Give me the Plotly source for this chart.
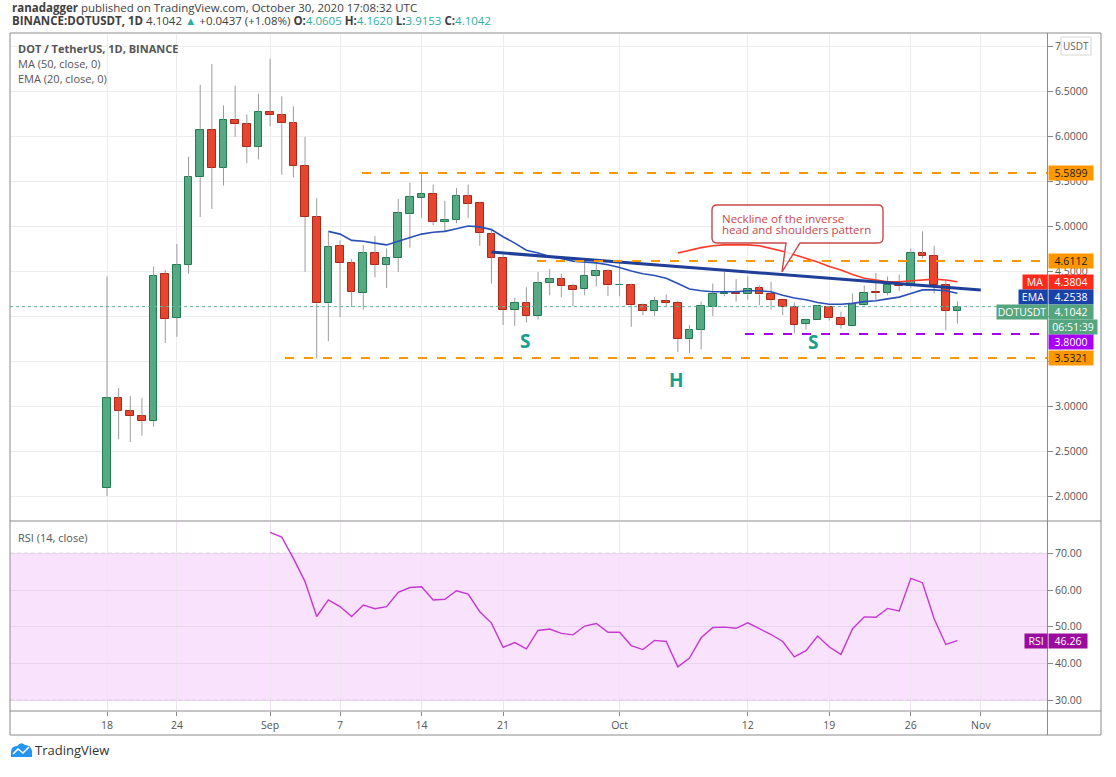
import pandas as pd
import plotly.graph_objects as go

# ---------------- data ----------------
dates = pd.date_range("2020-08-18", "2020-10-30", freq="D")
opens = [2.09, 3.09, 2.94, 2.89, 2.83, 4.47, 3.98, 4.57, 5.54, 6.07, 5.65, 6.18, 6.13, 5.88,
         6.27, 6.23, 6.14, 5.67, 5.10, 4.14, 4.78, 4.59, 4.26, 4.70, 4.57, 4.64, 5.13, 5.31,
         5.36, 5.05, 5.07, 5.33, 5.26, 4.91, 4.65, 4.07, 4.15, 4.00, 4.37, 4.41, 4.33, 4.30,
         4.45, 4.50,
         4.34, 4.34, 4.12, 4.06, 4.17, 4.15, 3.74, 3.85, 4.10, 4.25, 4.26, 4.24, 4.31, 4.25,
         4.18, 4.10, 3.91, 3.96, 4.10, 3.98, 3.89, 4.12, 4.27, 4.26, 4.35, 4.33, 4.70, 4.67,
         4.34, 4.0605]
highs = [4.44, 3.20, 3.11, 3.09, 4.55, 4.51, 4.80, 5.77, 6.57, 6.80, 6.34, 6.56, 6.24, 6.47,
         6.86, 6.44, 6.33, 5.99, 5.31, 4.93, 4.84, 4.63, 4.79, 4.89, 4.75, 5.30, 5.48, 5.59,
         5.46, 5.28, 5.42, 5.46, 5.27, 4.96, 4.68, 4.20, 4.32, 4.49, 4.52, 4.47, 4.36, 4.59,
         4.60, 4.52,
         4.59, 4.36, 4.14, 4.21, 4.24, 4.17, 3.90, 4.16, 4.36, 4.49, 4.41, 4.44, 4.34, 4.38,
         4.18, 4.15, 3.97, 4.12, 4.11, 4.05, 4.25, 4.34, 4.48, 4.44, 4.46, 4.75, 4.94, 4.78,
         4.40, 4.1620]
lows = [2.00, 2.63, 2.60, 2.67, 2.77, 3.70, 3.77, 4.47, 5.10, 5.19, 5.45, 5.99, 5.70, 5.74,
        6.11, 5.57, 5.54, 4.49, 3.53, 3.72, 3.99, 4.10, 4.07, 4.43, 4.31, 4.49, 4.76, 5.09,
        5.01, 4.94, 5.03, 5.09, 4.78, 4.36, 3.90, 3.89, 3.93, 3.96, 4.23, 4.21, 4.11, 4.23,
        4.33, 4.22,
        4.22, 3.88, 4.01, 4.00, 4.10, 3.60, 3.59, 3.63, 4.00, 4.22, 4.16, 4.18, 4.12, 4.07,
        4.01, 3.81, 3.85, 3.96, 3.95, 3.86, 3.89, 4.11, 4.18, 4.23, 4.28, 4.31, 4.64, 4.25,
        3.84, 3.9153]
closes = [3.09, 2.95, 2.89, 2.83, 4.44, 3.97, 4.57, 5.54, 6.07, 5.65, 6.18, 6.13, 5.88, 6.27,
          6.23, 6.14, 5.67, 5.10, 4.14, 4.77, 4.59, 4.27, 4.70, 4.57, 4.65, 5.14, 5.32, 5.36,
          5.05, 5.07, 5.33, 5.25, 4.92, 4.65, 4.07, 4.15, 4.00, 4.37, 4.41, 4.33, 4.29, 4.45,
          4.50, 4.34,
          4.345, 4.12, 4.06, 4.17, 4.15, 3.74, 3.84, 4.11, 4.25, 4.26, 4.24, 4.30, 4.24, 4.18,
          4.10, 3.90, 3.96, 4.11, 3.98, 3.90, 4.13, 4.26, 4.26, 4.35, 4.33, 4.70, 4.67, 4.34,
          4.06, 4.1042]

ema_start = "2020-09-06"
ema20 = [4.94, 4.91, 4.84, 4.83, 4.81, 4.79, 4.83, 4.87, 4.91, 4.93, 4.94, 4.97, 5.00, 4.99,
         4.96, 4.88, 4.81, 4.73, 4.70, 4.66, 4.64, 4.61, 4.60, 4.59, 4.57,
         4.54, 4.50, 4.47, 4.45, 4.42, 4.36, 4.30, 4.28, 4.27, 4.27, 4.27, 4.28, 4.28, 4.27,
         4.23, 4.20, 4.18, 4.15, 4.13, 4.13, 4.14, 4.16, 4.17, 4.19, 4.21, 4.25, 4.29, 4.29,
         4.28, 4.2538]

ma_start = "2020-10-06"
ma50 = [4.70, 4.73, 4.76, 4.78, 4.79, 4.79, 4.79, 4.78, 4.75, 4.72, 4.68, 4.64, 4.60, 4.55,
        4.51, 4.46, 4.42, 4.40, 4.38, 4.38, 4.39, 4.40, 4.41, 4.40, 4.3804]

rsi_start = "2020-09-01"
rsi14 = [75.7, 74.4, 68.6, 62.3, 52.8, 57.3, 55.5, 52.8, 55.9, 54.9, 55.5, 59.4, 60.7, 60.9,
         57.3, 57.5, 59.8, 58.9, 54.1, 51.0, 44.4, 45.7, 44.0, 49.0, 49.4, 48.2, 47.8, 50.2,
         50.9, 48.5,
         48.5, 44.9, 43.8, 46.3, 46.0, 39.1, 41.5, 47.0, 49.8, 49.9, 49.6, 51.1, 49.5, 47.9,
         46.0, 41.8, 43.5, 47.5, 44.5, 42.5, 49.5, 52.7, 52.6, 55.0, 54.3, 63.2, 62.0, 52.2,
         45.2, 46.26]

neck_dates = ["2020-09-20", "2020-11-01"]
neck_vals = [4.71, 4.29]

resist_high = 5.5899
resist_mid = 4.6112
support_low = 3.5321
support_purple = 3.80
last_price = 4.1042
ma_last = 4.3804
ema_last = 4.2538
rsi_last = 46.26

x_tick_dates = ["2020-08-18", "2020-08-24", "2020-09-01", "2020-09-07", "2020-09-14",
                "2020-09-21", "2020-10-01", "2020-10-12", "2020-10-19", "2020-10-26",
                "2020-11-01"]
x_tick_text = ["18", "24", "Sep", "7", "14", "21", "Oct", "12", "19", "26", "Nov"]
price_ticks = [2.0, 2.5, 3.0, 3.5, 4.0, 4.5, 5.0, 5.5, 6.0, 6.5, 7.0]
# 3.5 and 4.0 labels sit fully behind the price tags in the reference
price_tick_text = ["2.0000", "2.5000", "3.0000", "", "", "4.5000", "5.0000", "5.5000",
                   "6.0000", "6.5000", "7.0000"]
rsi_ticks = [30, 40, 50, 60, 70]

# ---------------- geometry helpers ----------------
W, H = 1116, 777
L, R, T, B = 10, 1047, 34, 711


def PX(x):
    return (x - L) / (R - L)


def PY(y):
    return (B - y) / (B - T)


day0 = pd.Timestamp("2020-08-18")
day_px = 11.65
x_start = day0 + pd.Timedelta(days=(L - 107) / day_px)
x_end = day0 + pd.Timedelta(days=(R - 107) / day_px)


def dpx(px):
    return day0 + pd.Timedelta(days=(px - 107) / day_px)


GREEN = "#56a982"
GREEN_L = "#1f7a4f"
RED = "#e8452e"
RED_L = "#a8281a"
WICK = "#9b9b9b"
ORANGE = "#ff9800"
PURPLE = "#a700f5"
FONT = "Open Sans"

fig = go.Figure()

# wicks (drawn outside the bodies)
wx, wy = [], []
for d, o, h, l, c in zip(dates, opens, highs, lows, closes):
    lo_b, hi_b = min(o, c), max(o, c)
    wx += [d, d, None, d, d, None]
    wy += [l, lo_b, None, hi_b, h, None]
fig.add_trace(go.Scatter(x=wx, y=wy, mode="lines", line=dict(color=WICK, width=1),
                         hoverinfo="skip", showlegend=False, xaxis="x", yaxis="y"))

# bodies
body_base = [min(o, c) for o, c in zip(opens, closes)]
body_h = [abs(c - o) for o, c in zip(opens, closes)]
body_col = [GREEN if c >= o else RED for o, c in zip(opens, closes)]
body_line = [GREEN_L if c >= o else RED_L for o, c in zip(opens, closes)]
fig.add_trace(go.Bar(x=dates, y=body_h, base=body_base, width=0.66 * 86400000,
                     marker=dict(color=body_col, line=dict(color=body_line, width=1)),
                     showlegend=False, xaxis="x", yaxis="y"))

ema_dates = pd.date_range(ema_start, periods=len(ema20), freq="D")
ma_dates = pd.date_range(ma_start, periods=len(ma50), freq="D")
rsi_dates = pd.date_range(rsi_start, periods=len(rsi14), freq="D")

fig.add_trace(go.Scatter(x=ema_dates, y=ema20, mode="lines", line=dict(color="#2b50b5", width=1.6),
                         showlegend=False, xaxis="x", yaxis="y"))
fig.add_trace(go.Scatter(x=ma_dates, y=ma50, mode="lines", line=dict(color="#ff3a2a", width=1.6),
                         showlegend=False, xaxis="x", yaxis="y"))
fig.add_trace(go.Scatter(x=pd.to_datetime(neck_dates), y=neck_vals, mode="lines",
                         line=dict(color="#1f3f98", width=3), showlegend=False,
                         xaxis="x", yaxis="y"))

# RSI
fig.add_trace(go.Scatter(x=rsi_dates, y=rsi14, mode="lines", line=dict(color="#c538d2", width=1.4),
                         showlegend=False, xaxis="x2", yaxis="y2"))

shapes = []
# RSI band
shapes.append(dict(type="rect", xref="x2", yref="y2", x0=x_start, x1=x_end, y0=30, y1=70,
                   fillcolor="#f8e2fc", line=dict(width=0), layer="below"))
for v in (30, 70):
    shapes.append(dict(type="line", xref="x2", yref="y2", x0=x_start, x1=x_end, y0=v, y1=v,
                       line=dict(color="#b0a9b4", width=1, dash="4px,3px"), layer="below"))

# horizontal levels
shapes.append(dict(type="line", xref="x", yref="y", x0=dpx(362), x1=x_end, y0=resist_high,
                   y1=resist_high, line=dict(color=ORANGE, width=2, dash="9px,10px")))
shapes.append(dict(type="line", xref="x", yref="y", x0=dpx(537), x1=x_end, y0=resist_mid,
                   y1=resist_mid, line=dict(color=ORANGE, width=2, dash="9px,10px")))
shapes.append(dict(type="line", xref="x", yref="y", x0=dpx(285), x1=x_end, y0=support_low,
                   y1=support_low, line=dict(color=ORANGE, width=2, dash="9px,10px")))
shapes.append(dict(type="line", xref="x", yref="y", x0=dpx(745), x1=x_end, y0=support_purple,
                   y1=support_purple, line=dict(color=PURPLE, width=2, dash="9px,10px")))
shapes.append(dict(type="line", xref="x", yref="y", x0=x_start, x1=x_end, y0=last_price,
                   y1=last_price, line=dict(color="#5fb49a", width=1, dash="dot")))

# callout box
x0, x1, y0, y1, r = 712, 883, 205, 243, 5
pts = [("M", x0 + r, y0), ("L", x1 - r, y0), ("Q", x1, y0, x1, y0 + r), ("L", x1, y1 - r),
       ("Q", x1, y1, x1 - r, y1), ("L", 800, y1), ("L", 782, 272), ("L", 786, y1),
       ("L", x0 + r, y1), ("Q", x0, y1, x0, y1 - r), ("L", x0, y0 + r),
       ("Q", x0, y0, x0 + r, y0)]
path = ""
for p in pts:
    cmd = p[0]
    coords = p[1:]
    s = []
    for i in range(0, len(coords), 2):
        s.append(f"{PX(coords[i]):.5f},{PY(coords[i + 1]):.5f}")
    path += cmd + " " + " ".join(s) + " "
path += "Z"
shapes.append(dict(type="path", xref="paper", yref="paper", path=path,
                   fillcolor="rgba(255,255,255,0.82)", line=dict(color="#c9474b", width=1.4)))

# frame lines
frame = dict(color="#8c8c8c", width=1)
shapes.append(dict(type="rect", xref="paper", yref="paper", x0=PX(10), x1=PX(1101),
                   y0=PY(735), y1=PY(33), line=frame))
shapes.append(dict(type="line", xref="paper", yref="paper", x0=PX(1047.5), x1=PX(1047.5),
                   y0=PY(735), y1=PY(33), line=frame))
shapes.append(dict(type="line", xref="paper", yref="paper", x0=PX(10), x1=PX(1101),
                   y0=PY(521), y1=PY(521), line=frame))
shapes.append(dict(type="line", xref="paper", yref="paper", x0=PX(10), x1=PX(1101),
                   y0=PY(711), y1=PY(711), line=frame))

# USDT box
shapes.append(dict(type="rect", xref="paper", yref="paper", x0=PX(1061), x1=PX(1091),
                   y0=PY(55), y1=PY(37), fillcolor="white", line=dict(color="#d6d6d6", width=1)))

# TradingView logo
logo = ("M {a},{b} L {c},{d} Q {e},{f} {g},{h} Q {i},{j} {k},{l} Q {m},{n} {o},{p} L {q},{r} Z"
        .format(a=PX(11), b=PY(757), c=PX(11), d=PY(752), e=PX(11), f=PY(746), g=PX(17), h=PY(746),
                i=PX(21), j=PY(741), k=PX(25), l=PY(745), m=PX(31), n=PY(745), o=PX(32), p=PY(751),
                q=PX(32), r=PY(757)))
shapes.append(dict(type="path", xref="paper", yref="paper", path=logo, fillcolor="#2196f3",
                   line=dict(width=0)))
shapes.append(dict(type="path", xref="paper", yref="paper",
                   path=f"M {PX(13)},{PY(754)} L {PX(18)},{PY(749)} L {PX(23)},{PY(753)} L {PX(29)},{PY(747)}",
                   line=dict(color="white", width=1.6)))

ann = []
TXT = "#404040"
TEAL = "#2fae9f"
ann.append(dict(xref="paper", yref="paper", x=PX(10), y=PY(7), xanchor="left", yanchor="middle",
                showarrow=False, font=dict(family=FONT, size=11.5, color=TXT),
                text="<b>ranadagger</b> published on TradingView.com, October 30, 2020 17:08:32 UTC"))
ann.append(dict(xref="paper", yref="paper", x=PX(10), y=PY(21), xanchor="left", yanchor="middle",
                showarrow=False, font=dict(family=FONT, size=11.5, color=TXT),
                text=("<b>BINANCE:DOTUSDT, 1D</b> 4.1042 <span style='color:%s'>▲</span> +0.0437 (+1.08%%) "
                      "<b>O:</b><span style='color:%s'>4.0605</span> <b>H:</b><span style='color:%s'>4.1620</span> "
                      "<b>L:</b><span style='color:%s'>3.9153</span> <b>C:</b><span style='color:%s'>4.1042</span>")
                % (TEAL, TEAL, TEAL, TEAL, TEAL)))
LEG = "#555555"
for yy, t in [(48, "<b>DOT / TetherUS, 1D, BINANCE</b>"), (63, "MA (50, close, 0)"),
              (78, "EMA (20, close, 0)")]:
    ann.append(dict(xref="paper", yref="paper", x=PX(16), y=PY(yy), xanchor="left",
                    yanchor="middle", showarrow=False, font=dict(family=FONT, size=11, color=LEG),
                    text=t))
ann.append(dict(xref="paper", yref="paper", x=PX(16), y=PY(537), xanchor="left", yanchor="middle",
                showarrow=False, font=dict(family=FONT, size=11, color=LEG), text="RSI (14, close)"))
ann.append(dict(xref="paper", yref="paper", x=PX(1076), y=PY(46), xanchor="center",
                yanchor="middle", showarrow=False, font=dict(family=FONT, size=10, color="#666"),
                text="USDT"))

# callout text
for yy, t in [(218, "Neckline of the inverse"), (229.5, "head and shoulders pattern")]:
    ann.append(dict(xref="paper", yref="paper", x=PX(720), y=PY(yy), xanchor="left",
                    yanchor="middle", showarrow=False, font=dict(family=FONT, size=11.5, color="#c9474b"),
                    text=t))

# S H S letters
for px_, py_, t in [(525, 341, "S"), (676, 380, "H"), (813, 342, "S")]:
    ann.append(dict(xref="x", yref="y", x=dpx(px_), y=2 + (496 - py_) / 90, showarrow=False,
                    font=dict(family=FONT, size=19, color="#17a08d"), text="<b>%s</b>" % t))


def tag(py, text, bg, fg="white", anchor="left", xp=1048, w=None):
    d = dict(xref="paper", yref="paper", x=PX(xp), y=PY(py), xanchor=anchor, yanchor="middle",
             showarrow=False, bgcolor=bg, font=dict(family=FONT, size=10.5, color=fg),
             text=text, borderpad=1, height=12)
    if w:
        d["width"] = w
    return d


# price tags (stacked as in the reference, so placed by pixel row)
ann.append(tag(173.3, "%.4f" % resist_high, ORANGE, fg="#1d1d1d", w=42))
ann.append(tag(260.7, "%.4f" % resist_mid, ORANGE, fg="#1d1d1d", w=42))
ann.append(tag(281.5, "%.4f" % ma_last, "#ff2a1a", w=42))
ann.append(tag(281.5, "MA", "#ff2a1a", anchor="right", w=22))
ann.append(tag(296.5, "%.4f" % ema_last, "#1943a8", w=42))
ann.append(tag(296.5, "EMA", "#1943a8", anchor="right", w=26))
ann.append(tag(311.5, "%.4f" % last_price, "#55a57f", w=42))
ann.append(tag(311.5, "DOTUSDT", "#55a57f", anchor="right", w=48))
ann.append(tag(327.3, "06:51:39", "#55a57f", w=46))
ann.append(tag(342.3, "%.4f" % support_purple, PURPLE, w=42))
ann.append(tag(358.3, "%.4f" % support_low, ORANGE, fg="#1d1d1d", w=42))
ann.append(tag(641, "%.2f" % rsi_last, "#9a0c9c", w=36))
ann.append(tag(641, "RSI", "#9a0c9c", anchor="right", w=20))

ann.append(dict(xref="paper", yref="paper", x=PX(33), y=PY(750), xanchor="left", yanchor="middle",
                showarrow=False, font=dict(family=FONT, size=13, color="#333"), text="TradingView"))

axis_font = dict(family=FONT, size=10.5, color="#555")
fig.update_layout(
    width=W, height=H, autosize=False,
    margin=dict(l=L, r=W - R, t=T, b=H - B, pad=0),
    paper_bgcolor="white", plot_bgcolor="white",
    showlegend=False, barmode="overlay", bargap=0,
    shapes=shapes, annotations=ann,
    xaxis=dict(domain=[0, 1], anchor="y", range=[x_start, x_end], type="date",
               tickvals=pd.to_datetime(x_tick_dates), ticktext=x_tick_text,
               showticklabels=False, showgrid=True, gridcolor="#ededed", gridwidth=1,
               zeroline=False, showline=False, ticks=""),
    xaxis2=dict(domain=[0, 1], anchor="y2", matches="x", range=[x_start, x_end], type="date",
                tickvals=pd.to_datetime(x_tick_dates), ticktext=x_tick_text,
                showgrid=True, gridcolor="#ede4ef", gridwidth=1, zeroline=False,
                ticks="outside", ticklen=4, tickcolor="#888", tickfont=axis_font,
                showline=False),
    yaxis=dict(domain=[(B - 520) / (B - T), 1], anchor="x", side="right",
               range=[2 + (496 - 520) / 90, 2 + (496 - T) / 90],
               tickvals=price_ticks, ticktext=price_tick_text, ticks="outside", ticklen=5,
               tickcolor="#888", tickfont=axis_font, showgrid=True, gridcolor="#ededed",
               zeroline=False, showline=False, fixedrange=True),
    yaxis2=dict(domain=[0, (B - 522) / (B - T)], anchor="x2", side="right",
                range=[30 - (B - 700.3) / 3.675, 70 + (553.3 - 522) / 3.675],
                tickvals=rsi_ticks, tickformat=".2f", ticks="outside", ticklen=5,
                tickcolor="#888", tickfont=axis_font, showgrid=True, gridcolor="#e9d3ee",
                zeroline=False, showline=False),
)

fig.write_html("out.html", config={"displayModeBar": False},
               post_script="document.body.style.margin='0px';")
